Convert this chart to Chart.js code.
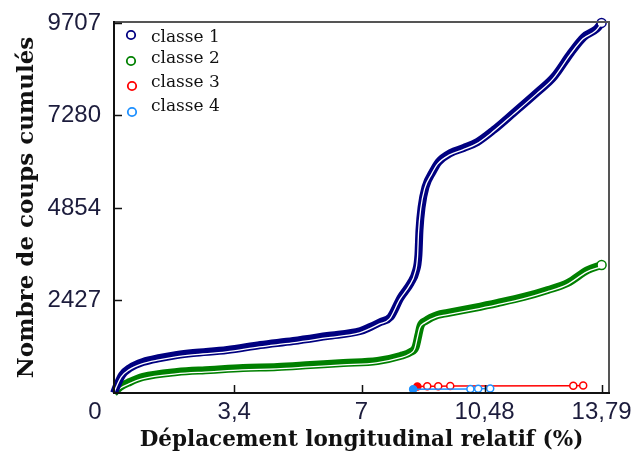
<!DOCTYPE html>
<html>
<head>
<meta charset="utf-8">
<script src="https://cdn.jsdelivr.net/npm/chart.js@4/dist/chart.umd.min.js"></script>
<style>
  html, body { margin: 0; padding: 0; background: #fff; }
</style>
</head>
<body>
<canvas id="essaiChart" width="633" height="454"></canvas>
<script>
// cumulative blow counts against relative longitudinal displacement (%)
const classNames = ["classe 1", "classe 2", "classe 3", "classe 4"];

const class1X = [0, 0.08, 0.23, 0.45, 0.82, 1.30, 1.78, 2.24, 3.20, 4.14, 5.07, 6.03, 6.97, 7.25, 7.54, 7.82,
    8.10, 8.39, 8.53, 8.61, 8.64, 8.70, 8.81, 9.01, 9.18, 9.52, 9.89, 10.28, 10.74, 11.30, 11.98, 12.44,
    12.92, 13.29, 13.65, 13.79];
const class1Y = [0, 184, 472, 656, 813, 918, 997, 1049, 1128, 1259, 1364, 1495, 1626, 1731, 1862, 1993,
    2492, 2885, 3174, 3620, 4275, 4878, 5403, 5797, 6059, 6295, 6426, 6583, 6898, 7344, 7895, 8289,
    8918, 9338, 9548, 9707];

const class2X = [0, 0.17, 0.45, 0.82, 1.78, 2.72, 3.65, 4.62, 5.55, 6.49, 7.45, 8.10, 8.39, 8.53, 8.61,
    8.67, 8.81, 9.15, 9.43, 10.17, 10.85, 11.59, 12.27, 12.83, 13.40, 13.79];
const class2Y = [0, 157, 289, 420, 551, 603, 656, 682, 734, 787, 839, 971, 1075, 1207, 1521,
    1757, 1889, 2046, 2098, 2230, 2361, 2518, 2702, 2885, 3226, 3357];

const class3X = [8.58, 8.86, 9.17, 9.51, 12.99, 13.27];
const class3Y = [170, 175, 180, 185, 190, 195];

const class4X = [8.46, 10.08, 10.30, 10.64];
const class4Y = [100, 105, 110, 115];

const xTickValues = [0, 3.4, 7, 10.48, 13.79];
const yTickValues = [0, 2427, 4854, 7280, 9707];

const colours = ["#000080", "#008000", "#ff0000", "#1e90ff"];

function toPoints(xs, ys) {
    return xs.map((x, i) => ({x: x, y: ys[i]}));
}

function lastPointOnly(radius) {
    return (ctx) => ctx.dataIndex === ctx.dataset.data.length - 1 ? radius : 0;
}

const tickFont = {family: "'Liberation Sans', Arial, sans-serif", size: 24};
const serif = "'DejaVu Serif', serif";

// thin white stroke drawn slightly off the centre of the thick bands
const shiftedStroke = {
    id: "shiftedStroke",
    beforeDatasetDraw(chart, args) {
        if (chart.data.datasets[args.index].shifted) {
            chart.ctx.save();
            chart.ctx.translate(-0.9, 1.9);
        }
    },
    afterDatasetDraw(chart, args) {
        if (chart.data.datasets[args.index].shifted) {
            chart.ctx.restore();
        }
    }
};

// box around the plot, inward tick marks, corner "0" and the legend
const frameAndLegend = {
    id: "frameAndLegend",
    afterDraw(chart) {
        const ctx = chart.ctx;
        const area = chart.chartArea;
        const xs = chart.scales.x;
        const ys = chart.scales.y;

        ctx.save();
        ctx.lineCap = "square";

        ctx.strokeStyle = "#555";
        ctx.lineWidth = 2;
        ctx.beginPath();
        ctx.moveTo(area.left, area.top);
        ctx.lineTo(area.right, area.top);
        ctx.lineTo(area.right, area.bottom);
        ctx.stroke();

        ctx.strokeStyle = "#111";
        ctx.beginPath();
        ctx.moveTo(area.left, area.top);
        ctx.lineTo(area.left, area.bottom);
        ctx.lineTo(area.right, area.bottom);
        ctx.stroke();

        ctx.lineWidth = 1.5;
        ctx.lineCap = "butt";
        ctx.beginPath();
        xTickValues.slice(1).forEach((v) => {
            const px = Math.round(xs.getPixelForValue(v)) + 0.5;
            ctx.moveTo(px, area.bottom);
            ctx.lineTo(px, area.bottom - 8);
        });
        yTickValues.slice(1).forEach((v) => {
            const py = Math.round(ys.getPixelForValue(v)) + 0.5;
            ctx.moveTo(area.left, py);
            ctx.lineTo(area.left + 8, py);
        });
        ctx.stroke();

        ctx.fillStyle = "#1c1c3c";
        ctx.font = "24px 'Liberation Sans', Arial, sans-serif";
        ctx.textAlign = "center";
        ctx.textBaseline = "middle";
        ctx.fillText("0", area.left - 19, area.bottom + 19);

        const rowY = [38, 59, 83, 107];
        const markerY = [35, 61, 86, 112];
        ctx.font = "17px " + serif;
        ctx.textAlign = "left";
        classNames.forEach((name, i) => {
            ctx.strokeStyle = colours[i];
            ctx.lineWidth = 1.8;
            ctx.beginPath();
            ctx.arc(area.left + 17 + (i > 1 ? 1 : 0), markerY[i], 4.2, 0, Math.PI * 2);
            ctx.stroke();
            ctx.fillStyle = "#111";
            ctx.fillText(name, area.left + 37, rowY[i]);
        });
        ctx.restore();
    }
};

new Chart(document.getElementById("essaiChart"), {
    type: "line",
    data: {
        datasets: [
            {
                label: classNames[0],
                data: toPoints(class1X, class1Y),
                borderColor: colours[0],
                borderWidth: 8,
                cubicInterpolationMode: "monotone",
                pointRadius: lastPointOnly(4.5),
                pointBackgroundColor: "#fff",
                pointBorderColor: colours[0],
                pointBorderWidth: 1.5,
                clip: 8,
                order: 4,
            },
            {
                data: toPoints(class1X, class1Y),
                borderColor: "#fff",
                borderWidth: 1.3,
                cubicInterpolationMode: "monotone",
                pointRadius: 0,
                shifted: true,
                clip: 8,
                order: 3,
            },
            {
                label: classNames[1],
                data: toPoints(class2X, class2Y),
                borderColor: colours[1],
                borderWidth: 8,
                cubicInterpolationMode: "monotone",
                pointRadius: lastPointOnly(4.5),
                pointBackgroundColor: "#fff",
                pointBorderColor: colours[1],
                pointBorderWidth: 1.5,
                clip: 8,
                order: 6,
            },
            {
                data: toPoints(class2X, class2Y),
                borderColor: "#fff",
                borderWidth: 1.3,
                cubicInterpolationMode: "monotone",
                pointRadius: 0,
                shifted: true,
                clip: 8,
                order: 5,
            },
            {
                label: classNames[2],
                data: toPoints(class3X, class3Y),
                borderColor: colours[2],
                borderWidth: 1.5,
                pointRadius: 3.5,
                pointBorderWidth: 1.5,
                pointBackgroundColor: (ctx) => ctx.dataIndex === 0 ? colours[2] : "#fff",
                order: 2,
            },
            {
                label: classNames[3],
                data: toPoints(class4X, class4Y),
                borderColor: colours[3],
                borderWidth: 1.5,
                pointRadius: 3.5,
                pointBorderWidth: 1.5,
                pointBackgroundColor: (ctx) => ctx.dataIndex === 0 ? colours[3] : "#fff",
                order: 1,
            },
        ],
    },
    options: {
        responsive: false,
        animation: false,
        events: [],
        layout: {
            padding: {top: 22, right: 24, left: 0, bottom: 0},
        },
        plugins: {
            legend: {display: false},
            tooltip: {enabled: false},
        },
        scales: {
            x: {
                type: "linear",
                min: 0,
                max: 14,
                afterBuildTicks: (scale) => {
                    scale.ticks = xTickValues.map((v) => ({value: v}));
                },
                afterFit: (scale) => {
                    scale.height = 61;
                    scale.paddingLeft = 0;
                    scale.paddingRight = 0;
                },
                ticks: {
                    autoSkip: false,
                    maxRotation: 0,
                    padding: 5,
                    color: "#1c1c3c",
                    font: tickFont,
                    callback: (v) => v === 0 ? "" : String(v).replace(".", ","),
                },
                grid: {display: false, drawTicks: false},
                border: {display: false},
                title: {
                    display: true,
                    text: "Déplacement longitudinal relatif (%)",
                    color: "#111",
                    font: {family: serif, size: 21.5, weight: "bold"},
                    padding: {top: 0, bottom: 1},
                },
            },
            y: {
                type: "linear",
                min: 0,
                max: 9730,
                afterBuildTicks: (scale) => {
                    scale.ticks = yTickValues.map((v) => ({value: v}));
                },
                afterFit: (scale) => {
                    scale.width = 114;
                    scale.paddingTop = 0;
                    scale.paddingBottom = 0;
                },
                ticks: {
                    autoSkip: false,
                    padding: 13,
                    color: "#1c1c3c",
                    font: tickFont,
                    callback: (v) => v === 0 ? "" : String(v),
                },
                grid: {display: false, drawTicks: false},
                border: {display: false},
                title: {
                    display: true,
                    text: "Nombre de coups cumulés",
                    color: "#111",
                    font: {family: serif, size: 23, weight: "bold"},
                    padding: {top: 13, bottom: 0},
                },
            },
        },
    },
    plugins: [shiftedStroke, frameAndLegend],
});
</script>
</body>
</html>
